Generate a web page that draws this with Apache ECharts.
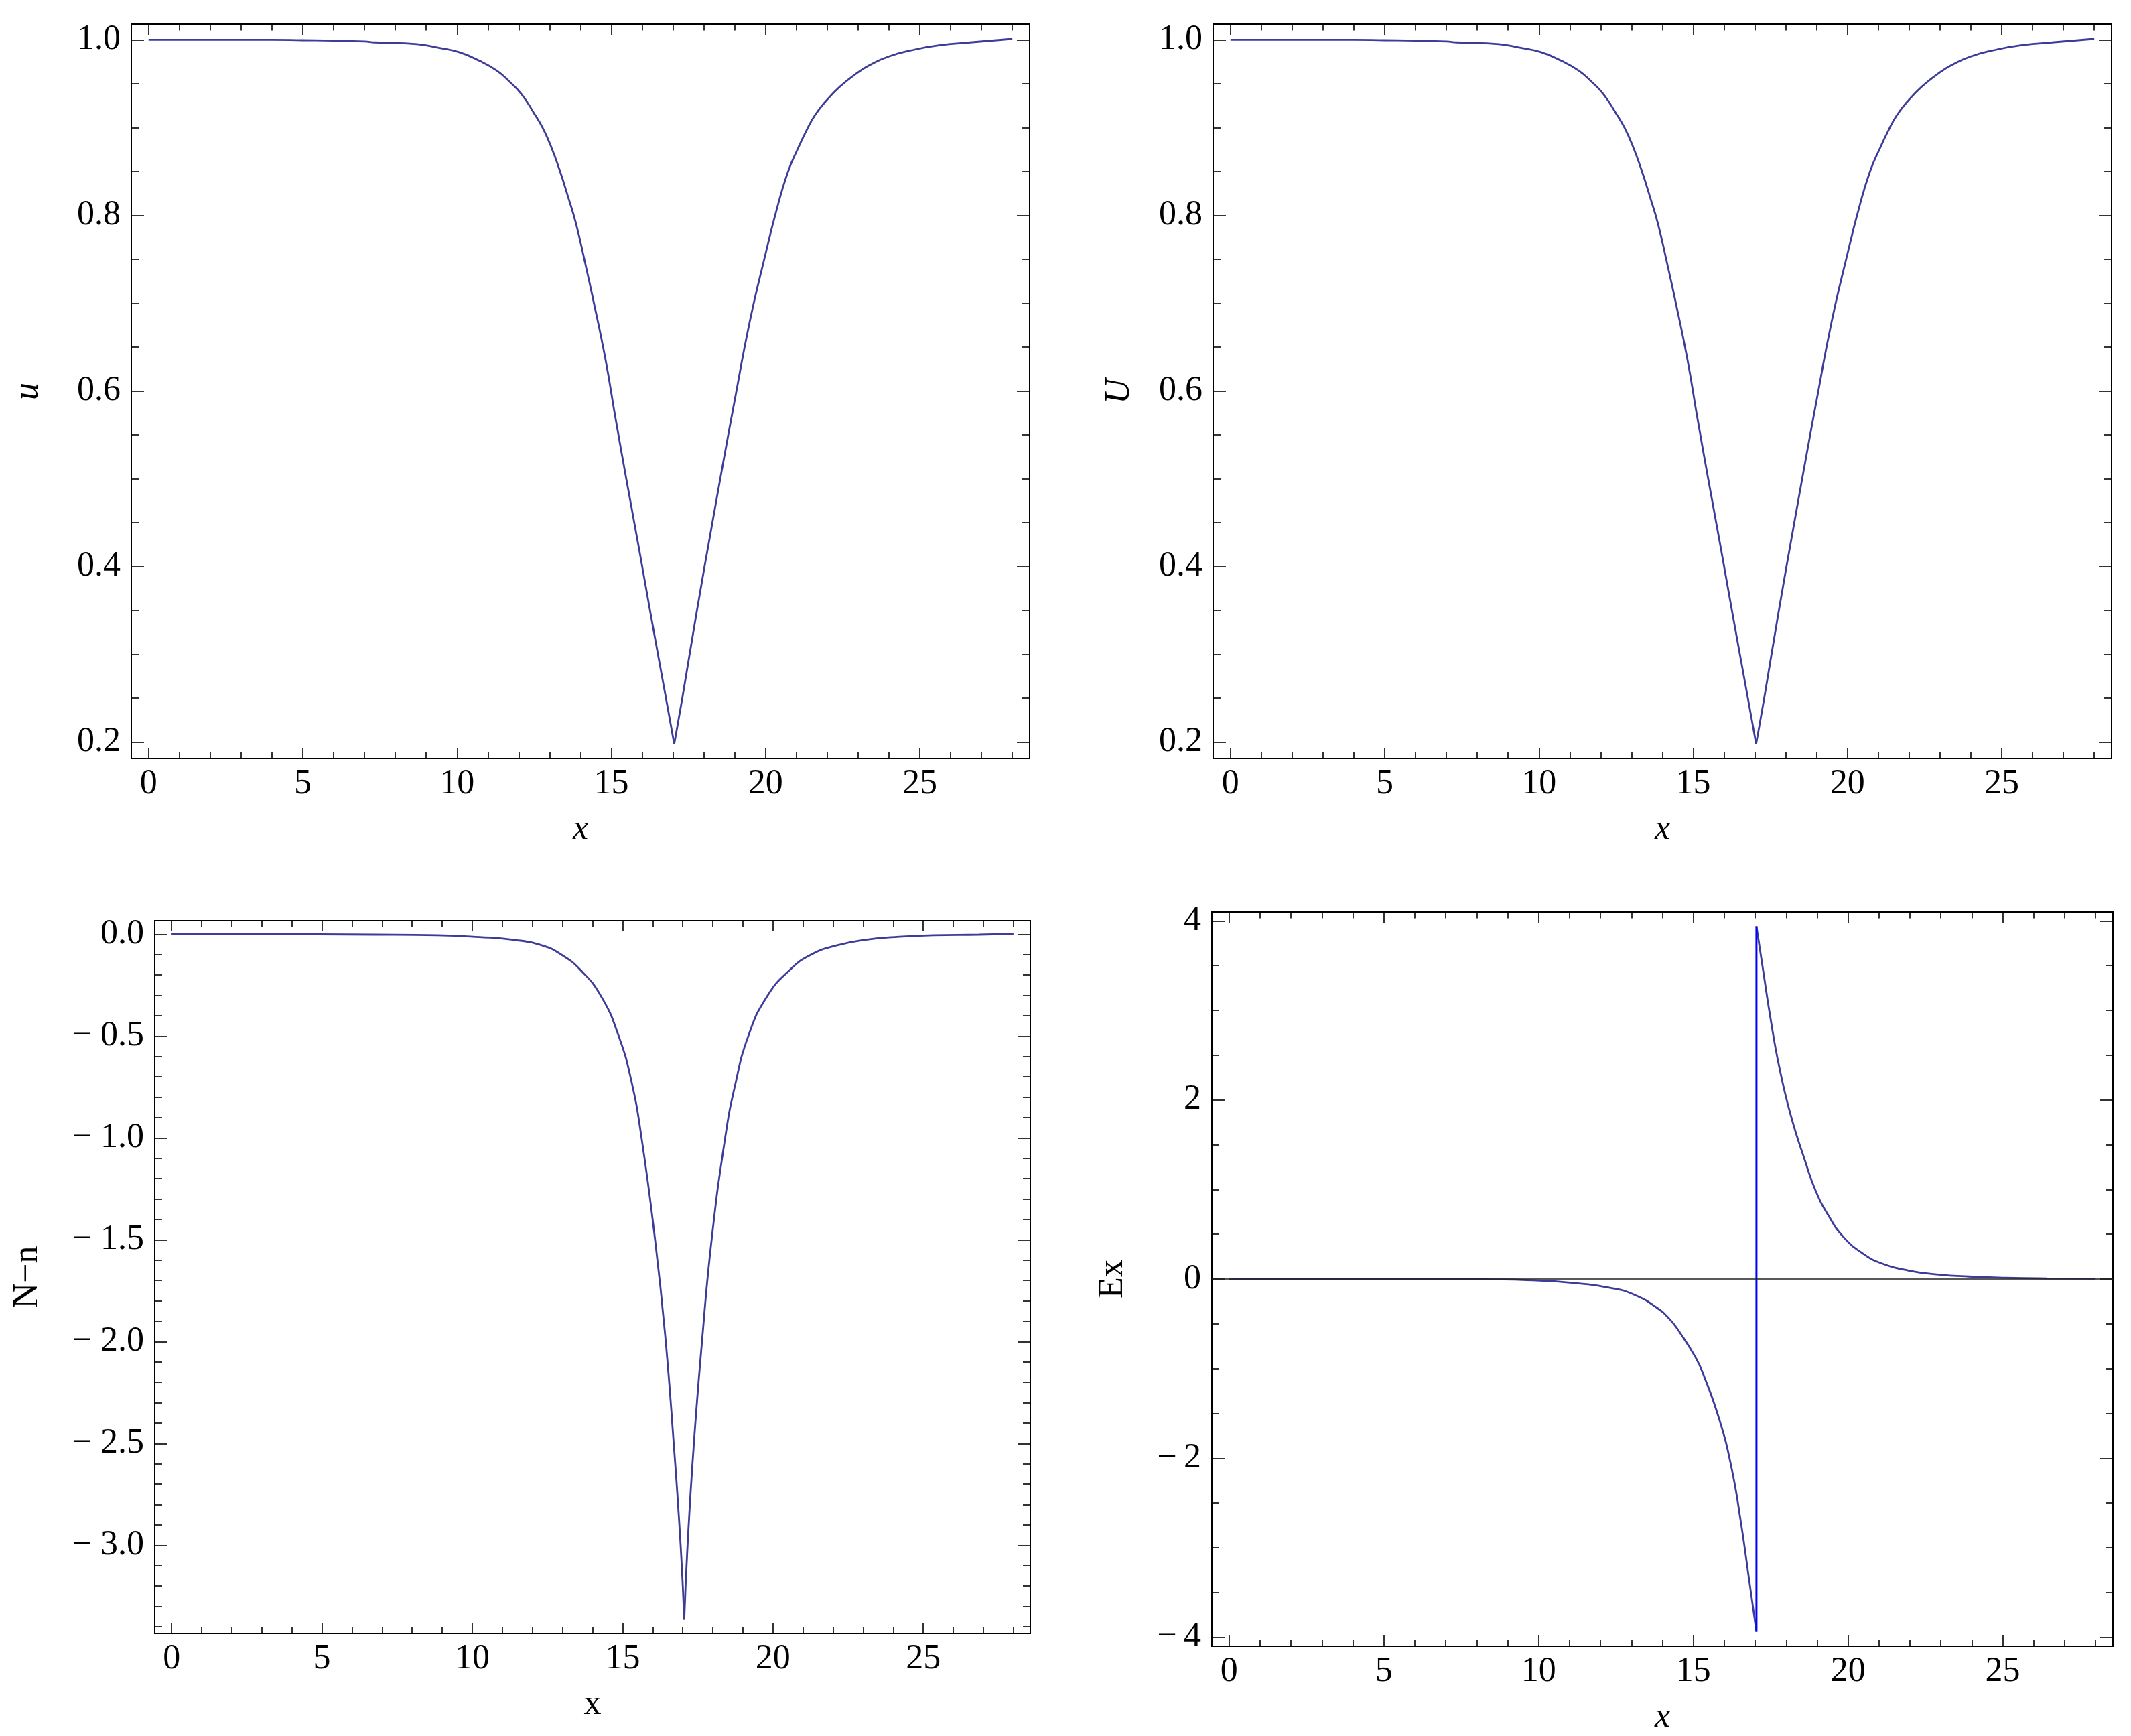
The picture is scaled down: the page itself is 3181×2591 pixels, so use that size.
<!DOCTYPE html>
<html>
<head>
<meta charset="utf-8">
<script src="https://cdn.jsdelivr.net/npm/echarts@6/dist/echarts.min.js"></script>
<style>
  html, body { margin: 0; padding: 0; background: #fff; }
  #main { width: 3181px; height: 2591px; }
</style>
</head>
<body>
<div id="main"></div>
<script>
// u(x), top left
var uX = [0, 2, 4, 5, 6, 7, 7.34, 8.7, 9.38, 10.05, 10.73, 11.28, 11.68, 12.09, 12.5, 12.77, 13.04, 13.32, 13.59, 13.86, 14.13, 14.4, 14.81, 15.15, 15.49, 15.9, 16.3, 16.71, 17.04,
          17.3, 17.77, 18.27, 18.79, 19.05, 19.32, 19.61, 19.95, 20.31, 20.72, 21.06, 21.33, 21.6, 21.95, 22.42, 22.96, 23.37, 24.0, 24.86, 25.7, 26.63, 28.0];
var uY = [1.0, 1.0, 1.0, 0.9995, 0.999, 0.998, 0.997, 0.995, 0.991, 0.986, 0.976, 0.965, 0.953, 0.938, 0.916, 0.9, 0.879, 0.852, 0.822, 0.79, 0.749, 0.706, 0.636, 0.566, 0.499, 0.42, 0.341, 0.262, 0.198,
          0.25, 0.349, 0.449, 0.55, 0.599, 0.65, 0.699, 0.749, 0.8, 0.849, 0.877, 0.897, 0.914, 0.93, 0.947, 0.962, 0.971, 0.981, 0.989, 0.994, 0.997, 1.001];

// U(x), top right
var bigUX = [0, 2, 4, 5, 6, 7, 7.34, 8.7, 9.38, 10.05, 10.73, 11.28, 11.68, 12.09, 12.5, 12.77, 13.04, 13.32, 13.59, 13.86, 14.13, 14.4, 14.81, 15.15, 15.49, 15.9, 16.3, 16.71, 17.04,
             17.3, 17.77, 18.27, 18.79, 19.05, 19.32, 19.61, 19.95, 20.31, 20.72, 21.06, 21.33, 21.6, 21.95, 22.42, 22.96, 23.37, 24.0, 24.86, 25.7, 26.63, 28.0];
var bigUY = [1.0, 1.0, 1.0, 0.9995, 0.999, 0.998, 0.997, 0.995, 0.991, 0.986, 0.976, 0.965, 0.953, 0.938, 0.916, 0.9, 0.879, 0.852, 0.822, 0.79, 0.749, 0.706, 0.636, 0.566, 0.499, 0.42, 0.341, 0.262, 0.198,
             0.25, 0.349, 0.449, 0.55, 0.599, 0.65, 0.699, 0.749, 0.8, 0.849, 0.877, 0.897, 0.914, 0.93, 0.947, 0.962, 0.971, 0.981, 0.989, 0.994, 0.997, 1.001];

// N-n, bottom left
var nX = [0, 3, 6.75, 8.84, 10.24, 11.35, 12.33, 12.96, 13.59, 14.29, 14.87, 15.29, 15.63, 16.08, 16.41, 16.7, 16.93, 17.05,
          17.16, 17.37, 17.64, 17.96, 18.41, 18.73, 19.18, 19.8, 20.57, 21.27, 22.11, 23.09, 24.06, 25.32, 26.86, 28.0];
var nY = [0, 0, -0.002, -0.005, -0.014, -0.027, -0.055, -0.1, -0.174, -0.306, -0.5, -0.72, -1.0, -1.5, -1.96, -2.5, -3.0, -3.365,
          -3.0, -2.5, -2.0, -1.5, -1.0, -0.749, -0.5, -0.306, -0.174, -0.1, -0.055, -0.027, -0.014, -0.005, -0.002, 0.002];

// Ex, bottom right: the two branches either side of the jump
var exLeftX = [0, 3, 6.82, 8.5, 9.62, 11.02, 12.42, 13.12, 13.82, 14.24, 14.57, 15.08, 15.32, 15.85, 16.23, 16.53, 16.78, 17.04];
var exLeftY = [0, 0, 0, -0.004, -0.012, -0.04, -0.105, -0.18, -0.32, -0.45, -0.6, -0.88, -1.06, -1.58, -2.1, -2.7, -3.3, -3.94];
var exRightX = [17.04, 17.25, 17.49, 17.77, 18.14, 18.63, 18.96, 19.35, 19.85, 20.5, 21.05, 21.95, 22.93, 23.9, 25.1, 26.43, 28.0];
var exRightY = [3.94, 3.46, 2.92, 2.38, 1.84, 1.3, 0.98, 0.72, 0.47, 0.28, 0.18, 0.095, 0.05, 0.028, 0.014, 0.007, 0.004];

// tick labels
var xTicks = [0, 5, 10, 15, 20, 25];
var uTicks = [0.2, 0.4, 0.6, 0.8, 1.0];
var nTicks = [0.0, -0.5, -1.0, -1.5, -2.0, -2.5, -3.0];
var eTicks = [-4, -2, 0, 2, 4];

var lineColor = '#3d3d99';
var jumpColor = '#0000ff';
var font = 'Liberation Serif';
var fontSize = 52;

function pairs(xs, ys) {
    return xs.map(function (x, i) { return [x, ys[i]]; });
}

// split a curve with a cusp at its minimum so each side can be smoothed
function splitAtMin(xs, ys) {
    var k = 0;
    for (var i = 1; i < ys.length; i++) {
        if (ys[i] < ys[k]) k = i;
    }
    var all = pairs(xs, ys);
    return [all.slice(0, k + 1), all.slice(k)];
}

function minorTicks(major, step, lo, hi) {
    var out = [];
    for (var k = Math.ceil(lo / step - 1e-9); k * step <= hi + 1e-9; k++) {
        var v = +(k * step).toFixed(6);
        var isMajor = major.some(function (m) { return Math.abs(m - v) < 1e-6; });
        if (!isMajor) out.push(v);
    }
    return out;
}

function fmtDec(v) {
    var s = Math.abs(v).toFixed(1);
    return v < -1e-9 ? '\u2212 ' + s : s;
}

function fmtInt(v) {
    return v < 0 ? '\u2212\u2009' + Math.abs(v) : String(v);
}

var panels = [
    { box: { left: 196, top: 36, width: 1341, height: 1096 },
      yRange: [0.1815, 1.0178], yMajor: uTicks, yStep: 0.05, yFmt: fmtDec,
      yName: 'u', yGap: 128, xName: 'x', italic: true, xItalic: true,
      curves: splitAtMin(uX, uY) },
    { box: { left: 1811, top: 36, width: 1341, height: 1096 },
      yRange: [0.1815, 1.0178], yMajor: uTicks, yStep: 0.05, yFmt: fmtDec,
      yName: 'U', yGap: 114, xName: 'x', italic: true, xItalic: true,
      curves: splitAtMin(bigUX, bigUY) },
    { box: { left: 231, top: 1374, width: 1307, height: 1064 },
      yRange: [-3.433, 0.067], yMajor: nTicks, yStep: 0.1, yFmt: fmtDec,
      yName: 'N\u2212n', yGap: 164, xName: 'x', italic: false, xItalic: false,
      curves: splitAtMin(nX, nY) },
    { box: { left: 1809, top: 1361, width: 1345, height: 1096 },
      yRange: [-4.1, 4.1], yMajor: eTicks, yStep: 0.5, yFmt: fmtInt,
      yName: 'Ex', yGap: 122, xName: 'x', italic: false, xItalic: true,
      curves: [pairs(exLeftX, exLeftY), pairs(exRightX, exRightY)], jump: true }
];

var xRange = [-0.56, 28.56];
var xMinor = minorTicks(xTicks, 1, xRange[0], xRange[1]);

var grids = [], xAxes = [], yAxes = [], series = [];

function frameAxis(gi, pos, range, values, len, label, name) {
    return {
        gridIndex: gi, type: 'value', position: pos,
        min: range[0], max: range[1],
        axisLine: { show: true, onZero: false, lineStyle: { color: '#000', width: 2 } },
        axisTick: { show: true, inside: true, length: len, customValues: values,
                    lineStyle: { color: '#000', width: 1.6 } },
        axisLabel: label || { show: false },
        splitLine: { show: false },
        minorTick: { show: false },
        name: name ? name.text : '',
        nameLocation: 'middle',
        nameGap: name ? name.gap : 0,
        nameRotate: name ? name.rotate : 0,
        nameTextStyle: name ? name.style : {}
    };
}

panels.forEach(function (p, gi) {
    grids.push(p.box);
    var xi = xAxes.length, yi = yAxes.length;
    var yMinor = minorTicks(p.yMajor, p.yStep, p.yRange[0], p.yRange[1]);

    var xLabel = { show: true, customValues: xTicks, margin: 12,
                   fontFamily: font, fontSize: fontSize, color: '#000' };
    var yLabel = { show: true, customValues: p.yMajor, margin: 16, formatter: p.yFmt,
                   fontFamily: font, fontSize: fontSize, color: '#000' };
    var xName = { text: p.xName, gap: 80, rotate: 0,
                  style: { fontFamily: font, fontSize: fontSize, color: '#000',
                           fontStyle: p.xItalic ? 'italic' : 'normal' } };
    var yName = { text: p.yName, gap: p.yGap, rotate: 90,
                  style: { fontFamily: font, fontSize: fontSize, color: '#000',
                           fontStyle: p.italic ? 'italic' : 'normal' } };

    xAxes.push(frameAxis(gi, 'bottom', xRange, xTicks, 16, xLabel, xName));
    xAxes.push(frameAxis(gi, 'bottom', xRange, xMinor, 9.5));
    xAxes.push(frameAxis(gi, 'top', xRange, xTicks, 16));
    xAxes.push(frameAxis(gi, 'top', xRange, xMinor, 9.5));

    yAxes.push(frameAxis(gi, 'left', p.yRange, p.yMajor, 19, yLabel, yName));
    yAxes.push(frameAxis(gi, 'left', p.yRange, yMinor, 11));
    yAxes.push(frameAxis(gi, 'right', p.yRange, p.yMajor, 19));
    yAxes.push(frameAxis(gi, 'right', p.yRange, yMinor, 11));

    p.curves.forEach(function (data, ci) {
        var s = {
            type: 'line', xAxisIndex: xi, yAxisIndex: yi, data: data,
            showSymbol: false, symbol: 'none', smooth: 0.5,
            silent: true, animation: false, z: 3,
            lineStyle: { color: lineColor, width: 2.8 }
        };
        if (p.jump && ci === 0) {
            s.markLine = {
                silent: true, symbol: 'none', animation: false,
                label: { show: false },
                lineStyle: { color: '#222', width: 1.6, type: 'solid' },
                data: [{ yAxis: 0 }]
            };
        }
        series.push(s);
    });

    if (p.jump) {
        // the jump joins the end of the left branch to the start of the right one
        var a = p.curves[0][p.curves[0].length - 1];
        var b = p.curves[1][0];
        series.push({
            type: 'line', xAxisIndex: xi, yAxisIndex: yi, data: [a, b],
            showSymbol: false, symbol: 'none', silent: true, animation: false, z: 4,
            lineStyle: { color: jumpColor, width: 3 }
        });
    }
});

var chart = echarts.init(document.getElementById('main'));
chart.setOption({
    backgroundColor: '#fff',
    animation: false,
    grid: grids,
    xAxis: xAxes,
    yAxis: yAxes,
    series: series
});
</script>
</body>
</html>
